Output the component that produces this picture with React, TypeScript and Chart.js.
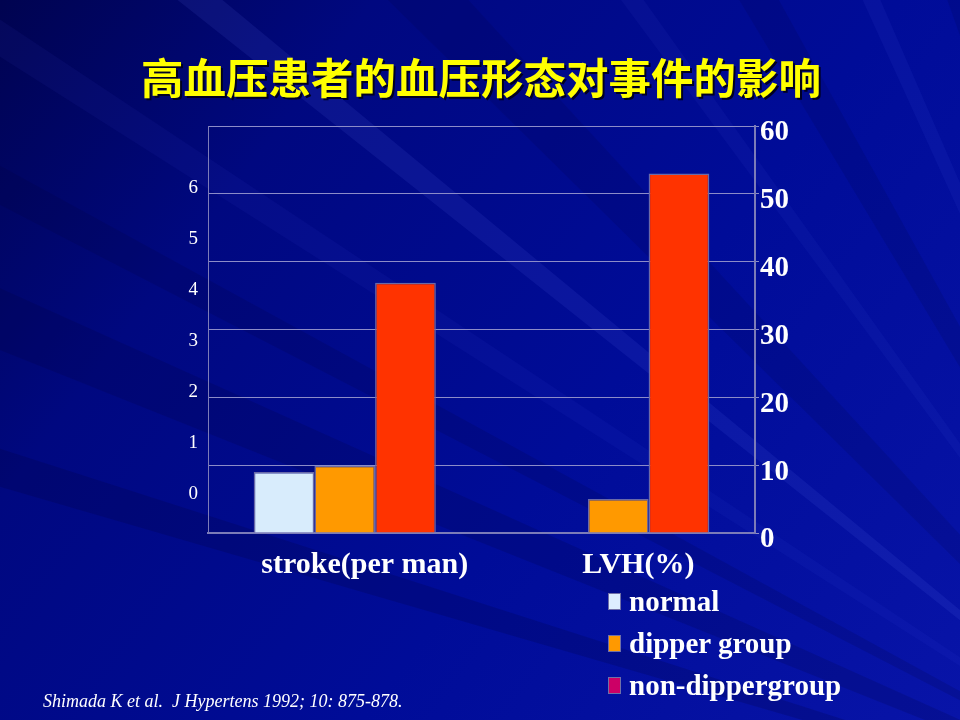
import { useEffect, useRef } from "react"
import { Chart, registerables, type Plugin } from "chart.js"

Chart.register(...registerables)

// data
const categories = ["stroke(per man)", "LVH(%)"]
const seriesNames = ["normal", "dipper group", "non-dippergroup"]
const normalValues = [9, 0]
const dipperValues = [9.9, 5]
const nonDipperValues = [36.9, 53]
const leftTicks = [0, 1, 2, 3, 4, 5, 6]
const rightTicks = [0, 10, 20, 30, 40, 50, 60]

const barColors = ["#D8ECFC", "#FF9900", "#FF3300"]
const legendColors = ["#DDEEFF", "#FF9900", "#CC0066"]
const serif = '"Liberation Serif", "Times New Roman", serif'
const lineColor = "#7c7cb8"

// faint streaks behind the slide: [angle deg, half width deg, colour]
const rays: [number, number, string][] = [
  [197, 0.8, "rgba(0,0,50,0.18)"],
  [203, 1.2, "rgba(0,0,50,0.16)"],
  [208, 0.7, "rgba(0,0,50,0.14)"],
  [213, 0.6, "rgba(90,110,255,0.06)"],
  [219, 0.6, "rgba(110,130,255,0.10)"],
  [226, 1.4, "rgba(0,0,50,0.12)"],
  [234, 0.5, "rgba(100,120,255,0.06)"],
  [240, 1.0, "rgba(0,0,50,0.12)"],
  [246, 0.5, "rgba(100,120,255,0.07)"],
  [251, 0.6, "rgba(0,0,50,0.12)"],
]

const backdrop: Plugin = {
  id: "backdrop",
  beforeDraw(chart) {
    const { ctx, width, height } = chart
    ctx.save()
    const g = ctx.createLinearGradient(0, 0, width, height)
    g.addColorStop(0, "#000350")
    g.addColorStop(0.25, "#000880")
    g.addColorStop(0.6, "#000c98")
    g.addColorStop(1, "#0814a8")
    ctx.fillStyle = g
    ctx.fillRect(0, 0, width, height)
    const fx = 1250
    const fy = 850
    const r = 2200
    for (const [deg, half, color] of rays) {
      const a0 = ((deg - half) * Math.PI) / 180
      const a1 = ((deg + half) * Math.PI) / 180
      ctx.beginPath()
      ctx.moveTo(fx, fy)
      ctx.lineTo(fx + r * Math.cos(a0), fy + r * Math.sin(a0))
      ctx.lineTo(fx + r * Math.cos(a1), fy + r * Math.sin(a1))
      ctx.closePath()
      ctx.fillStyle = color
      ctx.fill()
    }
    ctx.restore()
  },
}

export default function App() {
  const canvasRef = useRef<HTMLCanvasElement>(null)
  const chartRef = useRef<Chart | null>(null)

  useEffect(() => {
    document.body.style.margin = "0"
    if (!canvasRef.current) return
    if (chartRef.current) chartRef.current.destroy()

    const values = [normalValues, dipperValues, nonDipperValues]

    chartRef.current = new Chart(canvasRef.current, {
      type: "bar",
      data: {
        labels: categories,
        datasets: seriesNames.map((name, i) => ({
          label: name,
          data: values[i],
          backgroundColor: barColors[i],
          borderColor: "#6a6aa8",
          borderWidth: 1.5,
          borderSkipped: "bottom" as const,
          yAxisID: "y",
          categoryPercentage: 0.666,
          barPercentage: 1,
        })),
      },
      options: {
        responsive: true,
        maintainAspectRatio: false,
        animation: false,
        layout: { padding: { top: 126, left: 0, right: 0, bottom: 0 } },
        plugins: {
          legend: { display: false },
          tooltip: { enabled: false },
        },
        scales: {
          x: {
            position: "bottom",
            grid: { display: false, drawTicks: false },
            border: { display: true, color: lineColor, width: 2 },
            ticks: {
              color: "#ffffff",
              font: { family: serif, size: 30, weight: "bold" },
              labelOffset: 20,
              padding: 14,
            },
            afterFit: (s) => {
              s.height = 187
            },
          },
          yL: {
            position: "left",
            min: -0.8,
            max: 7.18,
            grid: { display: false, drawTicks: false },
            border: { display: true, color: lineColor, width: 1 },
            afterBuildTicks: (s) => {
              s.ticks = leftTicks.map((v) => ({ value: v }))
            },
            ticks: {
              color: "#ffffff",
              font: { family: serif, size: 19 },
              padding: 10,
              labelOffset: 2,
            },
            afterFit: (s) => {
              s.width = 208
            },
          },
          y: {
            position: "right",
            min: 0,
            max: 60,
            afterBuildTicks: (s) => {
              s.ticks = rightTicks.map((v) => ({ value: v }))
            },
            grid: { color: "#8c8cc8", lineWidth: 1, drawTicks: true, tickLength: 4 },
            border: { display: true, color: lineColor, width: 2 },
            ticks: {
              color: "#ffffff",
              font: { family: serif, size: 29, weight: "bold" },
              padding: 1,
              labelOffset: 7,
            },
            afterFit: (s) => {
              s.width = 205
            },
          },
        },
      },
      plugins: [backdrop],
    })

    return () => {
      if (chartRef.current) {
        chartRef.current.destroy()
        chartRef.current = null
      }
    }
  }, [])

  return (
    <div style={{ position: "fixed", left: 0, top: 0, width: 960, height: 720, overflow: "hidden" }}>
      <canvas ref={canvasRef} />
      <div
        style={{
          position: "absolute",
          left: 0,
          width: 962,
          top: 52,
          textAlign: "center",
          fontFamily: '"Noto Sans CJK SC", sans-serif',
          fontWeight: 700,
          fontSize: 42.5,
          lineHeight: "48px",
          color: "#FFFF00",
          textShadow: "2px 2px 0 #000022",
        }}
      >
        高血压患者的血压形态对事件的影响
      </div>
      {seriesNames.map((name, i) => (
        <div
          key={name}
          style={{
            position: "absolute",
            left: 608,
            top: 584 + i * 42,
            height: 34,
            display: "flex",
            alignItems: "center",
            fontFamily: serif,
            fontWeight: 700,
            fontSize: 29,
            color: "#ffffff",
            whiteSpace: "nowrap",
          }}
        >
          <span
            style={{
              display: "inline-block",
              width: 13,
              height: 17,
              background: legendColors[i],
              border: "1px solid #7070a8",
              boxSizing: "border-box",
              marginRight: 8,
            }}
          />
          {name}
        </div>
      ))}
      <div
        style={{
          position: "absolute",
          left: 43,
          top: 691,
          fontFamily: serif,
          fontStyle: "italic",
          fontSize: 18,
          lineHeight: "20px",
          color: "#ffffff",
          whiteSpace: "pre",
        }}
      >
        {"Shimada K et al.  J Hypertens 1992; 10: 875-878."}
      </div>
    </div>
  )
}
